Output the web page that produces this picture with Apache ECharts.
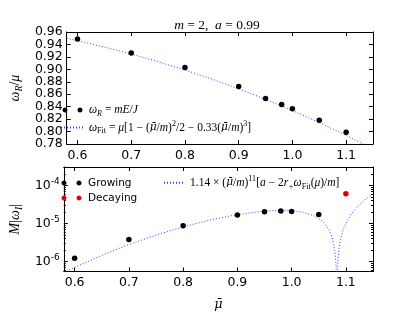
<!DOCTYPE html>
<html><head><meta charset="utf-8">
<script src="https://cdn.jsdelivr.net/npm/echarts@6/dist/echarts.min.js"></script>
<style>html,body{margin:0;padding:0;background:#fff}#c{width:415px;height:312px}</style>
</head><body><div id="c"></div>
<script>
// ---- data ----
const muPoints = [0.6, 0.7, 0.8, 0.9, 0.95, 0.98, 1.0, 1.05, 1.1];
const omegaR = [0.9487, 0.9262, 0.9031, 0.8725, 0.8531, 0.8435, 0.8365, 0.8182, 0.7988];

const fitTopMu = [0.58, 0.65, 0.70, 0.75, 0.80, 0.85, 0.90, 0.95, 1.00, 1.05, 1.10, 1.15];
const fitTopVal = [0.9499, 0.9359, 0.9246, 0.9123, 0.8989, 0.8844, 0.8687, 0.8518, 0.8338, 0.8144, 0.7938, 0.7720];

const growingMu = [0.6, 0.7, 0.8, 0.9, 0.95, 0.98, 1.0, 1.05];
const growingVal = [1.2e-6, 3.78e-6, 8.6e-6, 1.67e-5, 2.01e-5, 2.13e-5, 2.05e-5, 1.70e-5];
const decayingMu = [1.1];
const decayingVal = [6.0e-5];

const fitBotMu = [0.58, 0.60, 0.65, 0.70, 0.75, 0.80, 0.85, 0.90, 0.95, 0.98, 1.00, 1.02, 1.04, 1.05, 1.06, 1.07, 1.075, 1.08, 1.082, 1.0833, 1.085, 1.087, 1.09, 1.095, 1.10, 1.11, 1.12, 1.13, 1.14, 1.15];
const fitBotVal = [5.0e-7, 6.9e-7, 1.44e-6, 2.77e-6, 4.92e-6, 8.1e-6, 1.23e-5, 1.71e-5, 2.11e-5, 2.20e-5, 2.15e-5, 1.97e-5, 1.61e-5, 1.36e-5, 1.03e-5, 6.4e-6, 4.2e-6, 1.75e-6, 7.4e-7, 5e-8, 8.7e-7, 2.0e-6, 3.8e-6, 6.8e-6, 1.01e-5, 1.77e-5, 2.62e-5, 3.60e-5, 4.71e-5, 5.96e-5];

const xTicks = [0.6, 0.7, 0.8, 0.9, 1.0, 1.1];
const topYTicks = [0.78, 0.80, 0.82, 0.84, 0.86, 0.88, 0.90, 0.92, 0.94, 0.96];
const topYLabelsA = [0.78, 0.82, 0.86, 0.90, 0.94];
const topYLabelsB = [0.80, 0.84, 0.88, 0.92, 0.96];
const logMajor = [1e-6, 1e-5, 1e-4];
const logMinor = [6e-7, 7e-7, 8e-7, 9e-7, 2e-6, 3e-6, 4e-6, 5e-6, 6e-6, 7e-6, 8e-6, 9e-6,
                  2e-5, 3e-5, 4e-5, 5e-5, 6e-5, 7e-5, 8e-5, 9e-5, 2e-4, 3e-4];

// ---- helpers ----
const zip = (a, b) => a.map((v, i) => [v, b[i]]);
const SERIF = 'Liberation Serif';
const SANS = 'DejaVu Sans';
const mathRich = (fs) => ({
  i: {fontFamily: SERIF, fontStyle: 'italic', fontWeight: 'normal', fontSize: fs, lineHeight: fs + 4, color: '#000'},
  mb: {fontFamily: 'DejaVu Serif', fontStyle: 'italic', fontWeight: 'normal', fontSize: fs * 0.92, lineHeight: fs + 4, color: '#000'},
  r: {fontFamily: SERIF, fontWeight: 'normal', fontSize: fs, lineHeight: fs + 4, color: '#000'},
  sub: {fontFamily: SERIF, fontStyle: 'italic', fontWeight: 'normal', fontSize: fs * 0.7, lineHeight: fs * 0.7, verticalAlign: 'bottom', color: '#000'},
  subr: {fontFamily: SERIF, fontWeight: 'normal', fontSize: fs * 0.7, lineHeight: fs * 0.7, verticalAlign: 'bottom', color: '#000'},
  sup: {fontFamily: SERIF, fontWeight: 'normal', fontSize: fs * 0.7, lineHeight: fs * 0.7, verticalAlign: 'top', color: '#000'}
});
const LINE_BLUE = '#3a3aff';
// two legend dots (bezier circles), padded to a 23 px wide box by zero-length end segments
const DOTS = 'path://M0,2.5L0,2.5' +
  'M1.5,2.5C1.5,1.119 2.619,0 4,0C5.381,0 6.5,1.119 6.5,2.5C6.5,3.881 5.381,5 4,5C2.619,5 1.5,3.881 1.5,2.5Z' +
  'M16.5,2.5C16.5,1.119 17.619,0 19,0C20.381,0 21.5,1.119 21.5,2.5C21.5,3.881 20.381,5 19,5C17.619,5 16.5,3.881 16.5,2.5Z' +
  'M23,2.5L23,2.5';
const MUBAR = 'μ\u0304';

const tickLabel = {fontFamily: SANS, fontSize: 12.5, color: '#000'};
const axLine = {show: true, lineStyle: {color: '#000', width: 1}};

function xAx(grid, pos, labels, name) {
  return {
    type: 'value', gridIndex: grid, position: pos, min: 0.58, max: 1.15,
    axisLine: axLine, splitLine: {show: false},
    axisTick: {show: true, inside: true, length: 4, lineStyle: {color: '#000'}, customValues: xTicks},
    axisLabel: labels ? Object.assign({show: true, margin: 5, interval: 0, customValues: xTicks, formatter: v => v.toFixed(1)}, tickLabel) : {show: false},
    name: name ? '{mb|' + name + '}' : '', nameLocation: 'middle', nameGap: 24,
    nameTextStyle: {rich: mathRich(14)}
  };
}
function yLin(pos, line, labelVals, withName) {
  return {
    type: 'value', gridIndex: 0, position: pos, offset: 0, min: 0.78, max: 0.96,
    axisLine: line ? axLine : {show: false}, splitLine: {show: false},
    axisTick: line ? {show: true, inside: true, length: 4, lineStyle: {color: '#000'}, customValues: topYTicks} : {show: false},
    axisLabel: labelVals ? Object.assign({show: true, margin: 4, interval: 0, showMinLabel: true, showMaxLabel: true,
      customValues: labelVals, formatter: v => v.toFixed(2)}, tickLabel) : {show: false},
    name: withName ? '{i|ω}{sub|R}{r|/}{i|μ}' : '', nameLocation: 'middle', nameGap: 33, nameRotate: 90,
    nameTextStyle: {rich: mathRich(14)}
  };
}
function yLog(pos, major, labels) {
  return {
    type: 'log', logBase: 10, gridIndex: 1, position: pos, min: 5.4e-7, max: 3.05e-4,
    axisLine: {show: major, lineStyle: {color: '#000', width: 1}}, splitLine: {show: false},
    axisTick: {show: true, inside: true, length: major ? 4 : 2, lineStyle: {color: '#000'}, customValues: major ? logMajor : logMinor},
    axisLabel: labels ? {
      show: true, margin: 4, interval: 0, customValues: logMajor,
      formatter: v => '{b|10}{s|' + Math.round(Math.log10(v)) + '}',
      rich: {
        b: {fontFamily: SANS, fontSize: 12.5, lineHeight: 16, color: '#000'},
        s: {fontFamily: SANS, fontSize: 9, lineHeight: 9, verticalAlign: 'top', color: '#000'}
      }
    } : {show: false},
    name: labels ? '{i|M}{r||}{i|ω}{sub|I}{r||}' : '', nameLocation: 'middle', nameGap: 33, nameRotate: 90,
    nameTextStyle: {rich: mathRich(14)}
  };
}

const legendFmt = {
  omegaR: '{i|ω}{sub|R}{r| = }{i|mE}{r|/}{i|J}',
  fitTop: '{i|ω}{subr|Fit}{r| = }{i|μ}{r|[1 − (}{mb|' + MUBAR + '}{r|/}{i|m}{r|)}{sup|2}{r|/2 − 0.33(}{mb|' + MUBAR + '}{r|/}{i|m}{r|)}{sup|3}{r|]}',
  fitBottom: '{r|1.14 × (}{mb|' + MUBAR + '}{r|/}{i|m}{r|)}{sup|11}{r|[}{i|a}{r| − 2}{i|r}{sub|+}{i|ω}{subr|Fit}{r|(}{i|μ}{r|)/}{i|m}{r|]}'
};
const noSymbol = {opacity: 0};

const chart = echarts.init(document.getElementById('c'), null, {renderer: 'canvas'});
chart.setOption({
  animation: false,
  backgroundColor: '#fff',
  title: {
    text: '{i|m}{r| = 2,  }{i|a}{r| = 0.99}', left: 212, top: 12, textAlign: 'center',
    textStyle: {fontWeight: 'normal', rich: mathRich(13.5)}
  },
  grid: [
    {left: 52, top: 32, width: 321, height: 112},
    {left: 52, top: 167, width: 321, height: 112}
  ],
  xAxis: [
    xAx(0, 'bottom', true),
    xAx(0, 'top', false),
    xAx(1, 'bottom', true, MUBAR),
    xAx(1, 'top', false)
  ],
  yAxis: [
    yLin('left', true, topYLabelsA, true),
    yLin('right', true, null, false),
    yLog('left', true, true),
    yLog('right', true, false),
    yLog('left', false, false),
    yLog('right', false, false),
    yLin('left', false, topYLabelsB, false)
  ],
  legend: [
    {
      data: [{name: 'omegaR', icon: DOTS}, {name: 'fitTop', itemStyle: noSymbol}], orient: 'vertical', left: 60, top: 104,
      padding: 0, itemWidth: 23, itemHeight: 5, itemGap: 2, selectedMode: false,
      formatter: n => legendFmt[n], textStyle: {rich: mathRich(11.5)}
    },
    {
      data: [{name: 'Growing', icon: DOTS}, {name: 'Decaying', icon: DOTS}], orient: 'vertical', left: 60, top: 177,
      padding: 0, itemWidth: 23, itemHeight: 5, itemGap: 3, selectedMode: false,
      textStyle: {fontFamily: SANS, fontSize: 10.5, lineHeight: 12, color: '#000'}
    },
    {
      data: [{name: 'fitBottom', itemStyle: noSymbol}], orient: 'vertical', left: 163, top: 175,
      padding: 0, itemWidth: 21, itemHeight: 5, selectedMode: false,
      formatter: n => legendFmt[n], textStyle: {rich: mathRich(11.5)}
    }
  ],
  series: [
    {
      name: 'fitTop', type: 'line', xAxisIndex: 0, yAxisIndex: 0, data: zip(fitTopMu, fitTopVal),
      symbol: 'none', lineStyle: {color: LINE_BLUE, width: 1, type: [1, 2]}, itemStyle: {color: LINE_BLUE}, z: 2
    },
    {
      name: 'omegaR', type: 'scatter', xAxisIndex: 0, yAxisIndex: 0, data: zip(muPoints, omegaR),
      symbolSize: 5.5, itemStyle: {color: '#000', opacity: 1}, z: 3
    },
    {
      name: 'fitBottom', type: 'line', xAxisIndex: 2, yAxisIndex: 2, data: zip(fitBotMu, fitBotVal),
      symbol: 'none', lineStyle: {color: LINE_BLUE, width: 1, type: [1, 2]}, itemStyle: {color: LINE_BLUE}, z: 2
    },
    {
      name: 'Growing', type: 'scatter', xAxisIndex: 2, yAxisIndex: 2, data: zip(growingMu, growingVal),
      symbolSize: 5.5, itemStyle: {color: '#000', opacity: 1}, z: 3
    },
    {
      name: 'Decaying', type: 'scatter', xAxisIndex: 2, yAxisIndex: 2, data: zip(decayingMu, decayingVal),
      symbolSize: 5.5, itemStyle: {color: '#e00000', opacity: 1}, z: 3
    }
  ]
});
</script>
</body></html>
